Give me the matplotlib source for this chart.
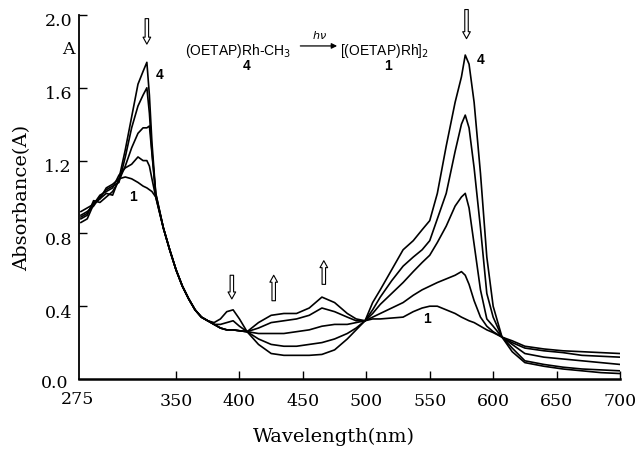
import matplotlib
matplotlib.use('Agg')
import matplotlib.pyplot as plt
from matplotlib.transforms import ScaledTranslation

# wavelength grid (nm) shared by all five spectra
wavelength = [275, 280, 285, 290, 295, 300, 305, 310, 315, 320, 324, 327, 329, 331, 334,
              340, 345, 350, 355, 360, 365, 370, 375, 380, 385, 390, 395, 400, 406,
              415, 425, 435, 445, 455, 465, 475, 485, 492, 499, 505, 511, 520, 529,
              537, 544, 550, 556, 563, 570, 575, 578, 581, 585, 590, 595, 600, 607,
              615, 625, 640, 655, 670, 685, 700]

# trace "4" (start, (OETAP)Rh-CH3) down to trace "1" (end, [(OETAP)Rh]2)
abs_4 = [0.86, 0.88, 0.96, 0.99, 1.02, 1.01, 1.10, 1.26, 1.44, 1.62, 1.69, 1.74, 1.56, 1.30, 1.02,
         0.83, 0.71, 0.60, 0.51, 0.44, 0.38, 0.34, 0.32, 0.31, 0.33, 0.37, 0.38, 0.33, 0.26,
         0.31, 0.35, 0.36, 0.36, 0.39, 0.45, 0.42, 0.36, 0.33, 0.32, 0.42, 0.49, 0.60, 0.71,
         0.76, 0.82, 0.87, 1.02, 1.28, 1.52, 1.66, 1.78, 1.73, 1.52, 1.13, 0.67, 0.40, 0.23,
         0.15, 0.09, 0.07, 0.055, 0.045, 0.035, 0.03]
abs_3 = [0.90, 0.92, 0.95, 1.00, 1.04, 1.06, 1.08, 1.22, 1.38, 1.50, 1.56, 1.60, 1.46, 1.25, 1.02,
         0.83, 0.71, 0.60, 0.51, 0.44, 0.38, 0.34, 0.32, 0.30, 0.30, 0.31, 0.32, 0.29, 0.26,
         0.28, 0.31, 0.32, 0.33, 0.35, 0.39, 0.37, 0.34, 0.32, 0.32, 0.38, 0.45, 0.54, 0.62,
         0.67, 0.71, 0.76, 0.88, 1.02, 1.25, 1.40, 1.45, 1.38, 1.16, 0.83, 0.47, 0.34, 0.23,
         0.17, 0.10, 0.08, 0.065, 0.055, 0.05, 0.045]
abs_2 = [0.88, 0.90, 0.98, 0.97, 1.00, 1.03, 1.09, 1.17, 1.27, 1.35, 1.38, 1.38, 1.39, 1.24, 1.01,
         0.83, 0.71, 0.60, 0.51, 0.44, 0.38, 0.34, 0.32, 0.30, 0.28, 0.27, 0.27, 0.265, 0.26,
         0.25, 0.25, 0.25, 0.26, 0.27, 0.29, 0.30, 0.30, 0.31, 0.32, 0.36, 0.41, 0.47, 0.53,
         0.59, 0.64, 0.68, 0.75, 0.84, 0.95, 1.00, 1.02, 0.94, 0.74, 0.49, 0.33, 0.29, 0.23,
         0.19, 0.14, 0.12, 0.11, 0.10, 0.09, 0.08]
abs_1b = [0.92, 0.94, 0.96, 1.01, 1.03, 1.05, 1.12, 1.16, 1.18, 1.22, 1.20, 1.20, 1.17, 1.10, 1.00,
          0.83, 0.71, 0.60, 0.51, 0.44, 0.38, 0.34, 0.32, 0.30, 0.28, 0.27, 0.27, 0.265, 0.26,
          0.22, 0.19, 0.18, 0.18, 0.19, 0.20, 0.22, 0.25, 0.28, 0.32, 0.34, 0.36, 0.39, 0.42,
          0.46, 0.49, 0.51, 0.53, 0.55, 0.57, 0.59, 0.57, 0.52, 0.43, 0.34, 0.29, 0.26, 0.23,
          0.20, 0.17, 0.155, 0.145, 0.13, 0.125, 0.12]
abs_1 = [0.89, 0.91, 0.97, 0.99, 1.05, 1.07, 1.10, 1.11, 1.10, 1.08, 1.06, 1.05, 1.04, 1.03, 1.00,
         0.83, 0.71, 0.60, 0.51, 0.44, 0.38, 0.34, 0.32, 0.30, 0.28, 0.27, 0.27, 0.265, 0.26,
         0.19, 0.14, 0.13, 0.13, 0.13, 0.135, 0.16, 0.22, 0.27, 0.32, 0.33, 0.33, 0.335, 0.34,
         0.37, 0.39, 0.40, 0.40, 0.38, 0.36, 0.34, 0.33, 0.32, 0.31, 0.29, 0.27, 0.255, 0.23,
         0.21, 0.18, 0.165, 0.155, 0.15, 0.145, 0.14]

x_ticks = [350, 400, 450, 500, 550, 600, 650, 700]
y_ticks = [0.4, 0.8, 1.2, 1.6, 2.0]
y_ticklabels = ['0.4', '0.8', '1.2', '1.6', '2.0']

serif = 'DejaVu Serif'
sans = 'Liberation Sans'

fig = plt.figure(figsize=(6.41, 4.50), dpi=100)
ax = fig.add_axes([79/641, 1-379/450, 541/641, 364/450])

for series in [abs_4, abs_3, abs_2, abs_1b, abs_1]:
    ax.plot(wavelength, series, color='black', lw=1.2)

ax.set_xlim(273.5, 700)
ax.set_ylim(0, 2.0)
ax.spines['top'].set_visible(False)
ax.spines['right'].set_visible(False)
ax.spines['left'].set_linewidth(1.3)
ax.spines['bottom'].set_linewidth(1.8)

ax.set_xticks(x_ticks)
ax.set_xticklabels([str(t) for t in x_ticks], family=serif, fontsize=12.5)
ax.set_yticks(y_ticks)
ax.set_yticklabels(y_ticklabels, family=serif, fontsize=12.5)
ax.tick_params(direction='in', length=6, width=1.0)
ax.tick_params(axis='x', pad=10)
ax.tick_params(axis='y', pad=5)
# y labels sit a little below their ticks in the original
for lab in ax.get_yticklabels():
    lab.set_transform(lab.get_transform() + ScaledTranslation(0, -0.05, fig.dpi_scale_trans))

# extra labels at the axis origin and under the top tick
fig.text(55/641, 1-383/450, '0.0', family=serif, fontsize=12.5, ha='center', va='center')
fig.text(78/641, 1-400/450, '275', family=serif, fontsize=12.5, ha='center', va='center')
fig.text(68/641, 1-50/450, 'A', family=serif, fontsize=12.5, ha='center', va='center')

fig.text(22/641, 1-198/450, 'Absorbance(A)', family=serif, fontsize=14, rotation=90,
         ha='center', va='center')
fig.text(334/641, 1-437/450, 'Wavelength(nm)', family=serif, fontsize=14,
         ha='center', va='center')

# reaction scheme
ax.text(357, 1.80, '(OETAP)Rh-CH$_3$', family=sans, fontsize=10, ha='left', va='center')
ax.text(406, 1.72, '4', family=sans, fontsize=10, weight='bold', ha='center', va='center')
ax.annotate('', xy=(477, 1.83), xytext=(448, 1.83),
            arrowprops=dict(arrowstyle='-|>', color='black', lw=0.9, mutation_scale=8,
                            shrinkA=0, shrinkB=0))
ax.text(463, 1.89, r'$h\nu$', fontsize=8, ha='center', va='center')
ax.text(479, 1.80, '[(OETAP)Rh]$_2$', family=sans, fontsize=10, ha='left', va='center')
ax.text(517, 1.72, '1', family=sans, fontsize=10, weight='bold', ha='center', va='center')

# curve labels
for wl, a, s in [(337, 1.67, '4'), (590, 1.75, '4'), (316, 1.00, '1'), (548, 0.33, '1')]:
    ax.text(wl, a, s, family=sans, fontsize=10, weight='bold', ha='center', va='center')

# hollow arrows showing the direction of change
hollow = dict(arrowstyle='simple,head_length=0.5,head_width=0.55,tail_width=0.25',
              fc='white', ec='black', lw=0.8, shrinkA=0, shrinkB=0)
for x0, y0, y1 in [(327, 1.98, 1.84), (579, 2.03, 1.87), (394, 0.57, 0.44),
                   (427, 0.43, 0.57), (466.5, 0.52, 0.65)]:
    ax.annotate('', xy=(x0, y1), xytext=(x0, y0), arrowprops=hollow, annotation_clip=False)

plt.savefig('out.png', dpi=100)
